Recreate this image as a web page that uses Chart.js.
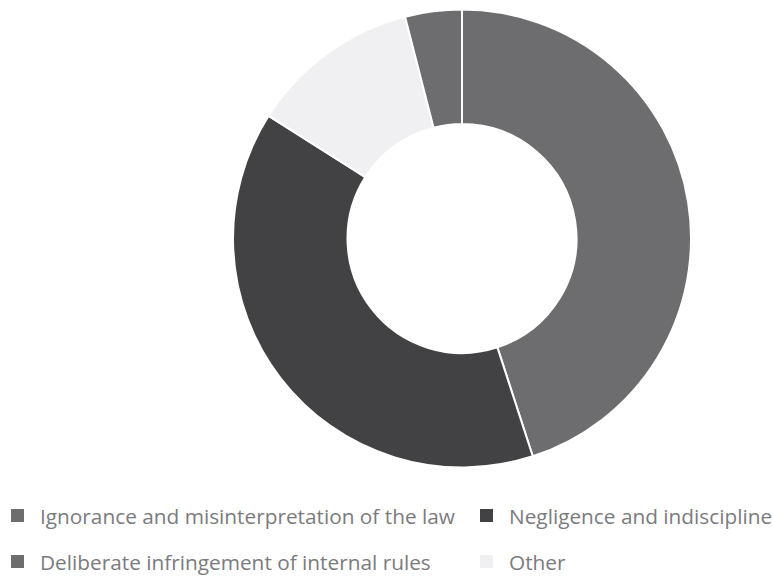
<!DOCTYPE html>
<html>
<head>
<meta charset="utf-8">
<script src="https://cdn.jsdelivr.net/npm/chart.js@4.4.0/dist/chart.umd.min.js"></script>
<style>
  body { margin: 0; background: #fff; width: 773px; height: 576px; position: relative; overflow: hidden; }
  #wrap { position: absolute; left: 232px; top: 8px; width: 460px; height: 461px; }
  #legend { position: absolute; left: 11px; top: 501px; display: grid; grid-template-columns: 469px auto; row-gap: 17px;
            font-family: "Open Sans", sans-serif; font-size: 20.8px; color: #7b7b7e; }
  .item { display: flex; align-items: center; height: 29px; white-space: nowrap; }
  .box { width: 13px; height: 13px; margin-right: 16px; flex: none; }
</style>
</head>
<body>
<div id="wrap"><canvas id="chartSebab"></canvas></div>
<div id="legend"></div>
<script>
// urutan potongan searah jarum jam dari atas
const kategori = [
  "Ignorance and misinterpretation of the law",
  "Negligence and indiscipline",
  "Other",
  "Deliberate infringement of internal rules"
];
const persen = [45, 39, 12, 4];
const warna = ["#6d6d70", "#424245", "#f0f0f2", "#6d6d70"];

// urutan di legenda
const urutanLegenda = [0, 1, 3, 2];

const chart = new Chart(document.getElementById("chartSebab"), {
  type: "doughnut",
  data: {
    labels: kategori,
    datasets: [{
      data: persen,
      backgroundColor: warna,
      borderColor: "#ffffff",
      borderWidth: 2
    }]
  },
  options: {
    responsive: true,
    maintainAspectRatio: false,
    animation: false,
    cutout: "50%",
    plugins: {
      legend: { display: false },
      tooltip: { enabled: false }
    }
  }
});

// legenda HTML dua kolom
const legend = document.getElementById("legend");
urutanLegenda.forEach(i => {
  const item = document.createElement("div");
  item.className = "item";
  const box = document.createElement("span");
  box.className = "box";
  box.style.background = chart.data.datasets[0].backgroundColor[i];
  const teks = document.createElement("span");
  teks.textContent = chart.data.labels[i];
  item.appendChild(box);
  item.appendChild(teks);
  legend.appendChild(item);
});
</script>
</body>
</html>
